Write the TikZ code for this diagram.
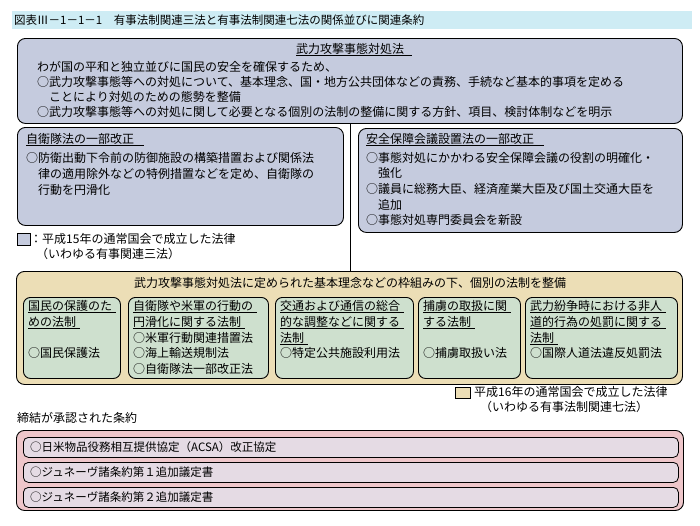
\documentclass[tikz,border=0pt]{standalone}
\usepackage{fontspec}
\setmainfont{Noto Sans CJK JP}
\definecolor{barfill}{RGB}{206,236,244}
\definecolor{bluefill}{RGB}{197,203,222}
\definecolor{tanfill}{RGB}{236,222,182}
\definecolor{greenfill}{RGB}{206,224,206}
\definecolor{pinkfill}{RGB}{238,198,202}
\definecolor{rowfill}{RGB}{229,219,228}
\newcommand\ulx[2][4pt]{\setbox0\hbox{#2}\rlap{\vrule width\dimexpr\wd0+#1\relax height -1.6pt depth 2.5pt}\box0}
\tikzset{
  panel/.style={draw=black, line width=0.9pt, rounded corners=8pt, anchor=north west, inner sep=0pt},
  bluebox/.style={panel, fill=bluefill},
  tanbox/.style={panel, fill=tanfill},
  greenbox/.style={panel, fill=greenfill, rounded corners=7pt},
  pinkbox/.style={panel, fill=pinkfill},
  rowbox/.style={panel, fill=rowfill, rounded corners=5pt, line width=0.8pt},
  legsq/.style={draw=black, line width=0.8pt, anchor=north west, inner sep=0pt},
  txt/.style={anchor=north west, inner sep=0pt, align=left, font=\fontsize{12}{15}\selectfont},
  txtb/.style={txt, font=\fontsize{12}{15.6}\selectfont},
  ctxt/.style={anchor=center, inner sep=0pt, font=\fontsize{12}{15}\selectfont},
  rowtxt/.style={anchor=west, inner sep=0pt, font=\fontsize{11.5}{14}\selectfont},
  link/.style={draw=black, line width=0.9pt}
}
\begin{document}
\begin{tikzpicture}[x=1pt,y=-1pt]
\useasboundingbox (0,0) rectangle (700,525);
% title bar
\node[fill=barfill, anchor=north west, inner sep=0pt, minimum width=680pt, minimum height=18pt] (bar) at (12,11) {};
\node[anchor=west, inner sep=0pt, font=\fontsize{11.5}{14}\selectfont] (bartext) at (14,20) {図表Ⅲ－1－1－1　有事法制関連三法と有事法制関連七法の関係並びに関連条約};
% top box
\node[bluebox, minimum width=665pt, minimum height=85pt] (top) at (17,38) {};
\node[ctxt] (toptitle) at (350,50) {\ulx[8pt]{武力攻撃事態対処法}};
\node[txt] (topbody) at (37,61) {わが国の平和と独立並びに国民の安全を確保するため、\\
○武力攻撃事態等への対処について、基本理念、国・地方公共団体などの責務、手続など基本的事項を定める\\
\hspace*{12pt}ことにより対処のための態勢を整備\\
○武力攻撃事態等への対処に関して必要となる個別の法制の整備に関する方針、項目、検討体制などを明示};
% left box
\node[bluebox, minimum width=326pt, minimum height=98pt] (left) at (17,127) {};
\node[txt] (lefttitle) at (26,133) {\ulx[10pt]{自衛隊法の一部改正}};
\node[txtb] (leftbody) at (26,152.5) {○防衛出動下令前の防御施設の構築措置および関係法\\
\hspace*{12pt}律の適用除外などの特例措置などを定め、自衛隊の\\
\hspace*{12pt}行動を円滑化};
% right box
\node[bluebox, minimum width=324pt, minimum height=104pt] (right) at (358,128) {};
\node[txt] (righttitle) at (366,133) {\ulx[10pt]{安全保障会議設置法の一部改正}};
\node[txtb] (rightbody) at (366,152) {○事態対処にかかわる安全保障会議の役割の明確化・\\
\hspace*{12pt}強化\\
○議員に総務大臣、経済産業大臣及び国土交通大臣を\\
\hspace*{12pt}追加\\
○事態対処専門委員会を新設};
% legend 1
\node[legsq, fill=bluefill, minimum width=13pt, minimum height=12pt] (leg1) at (17,233) {};
\node[txt] (leg1text) at (30,233) {：平成15年の通常国会で成立した法律\\
\hspace*{6pt}（いわゆる有事関連三法）};
% tan box
\node[tanbox, minimum width=666pt, minimum height=113pt] (tan) at (16,271) {};
\draw[link] (top.south) -- (top.south |- tan.north);
\node[ctxt] (tantitle) at (350,283) {武力攻撃事態対処法に定められた基本理念などの枠組みの下、個別の法制を整備};
% inner boxes
\node[greenbox, minimum width=97pt, minimum height=81pt] (in1) at (23,297) {};
\node[greenbox, minimum width=140pt, minimum height=81pt] (in2) at (128,297) {};
\node[greenbox, minimum width=138pt, minimum height=81pt] (in3) at (275,297) {};
\node[greenbox, minimum width=102pt, minimum height=81pt] (in4) at (418,297) {};
\node[greenbox, minimum width=152pt, minimum height=81pt] (in5) at (525,297) {};
\node[txtb] (in1text) at (28,300.5) {\ulx{国民の保護のた}\\ \ulx{めの法制}\\ \mbox{}\\ ○国民保護法};
\node[txtb] (in2text) at (133,300.5) {\ulx{自衛隊や米軍の行動の}\\ \ulx{円滑化に関する法制}\\ ○米軍行動関連措置法\\ ○海上輸送規制法\\ ○自衛隊法一部改正法};
\node[txtb] (in3text) at (280,300.5) {\ulx{交通および通信の総合}\\ \ulx{的な調整などに関する}\\ \ulx{法制}\\ ○特定公共施設利用法};
\node[txtb] (in4text) at (423,300.5) {\ulx{捕虜の取扱に関}\\ \ulx{する法制}\\ \mbox{}\\ ○捕虜取扱い法};
\node[txtb] (in5text) at (530,300.5) {\ulx{武力紛争時における非人}\\ \ulx{道的行為の処罰に関する}\\ \ulx{法制}\\ ○国際人道法違反処罰法};
% legend 2
\node[legsq, fill=tanfill, minimum width=15pt, minimum height=11pt] (leg2) at (455,387) {};
\node[txt] (leg2text) at (474,386.5) {平成16年の通常国会で成立した法律\\
\hspace*{6pt}（いわゆる有事法制関連七法）};
% treaties
\node[txt] (treatyhead) at (17,412) {締結が承認された条約};
\node[pinkbox, minimum width=667pt, minimum height=80pt] (pink) at (16,430) {};
\node[rowbox, minimum width=655pt, minimum height=20pt] (r1) at (23,437) {};
\node[rowbox, minimum width=655pt, minimum height=20pt] (r2) at (23,462) {};
\node[rowbox, minimum width=655pt, minimum height=20pt] (r3) at (23,487) {};
\node[rowtxt] (r1text) at ([xshift=7pt]r1.west) {○日米物品役務相互提供協定（ACSA）改正協定};
\node[rowtxt] (r2text) at ([xshift=7pt]r2.west) {○ジュネーヴ諸条約第１追加議定書};
\node[rowtxt] (r3text) at ([xshift=7pt]r3.west) {○ジュネーヴ諸条約第２追加議定書};
\end{tikzpicture}
\end{document}
